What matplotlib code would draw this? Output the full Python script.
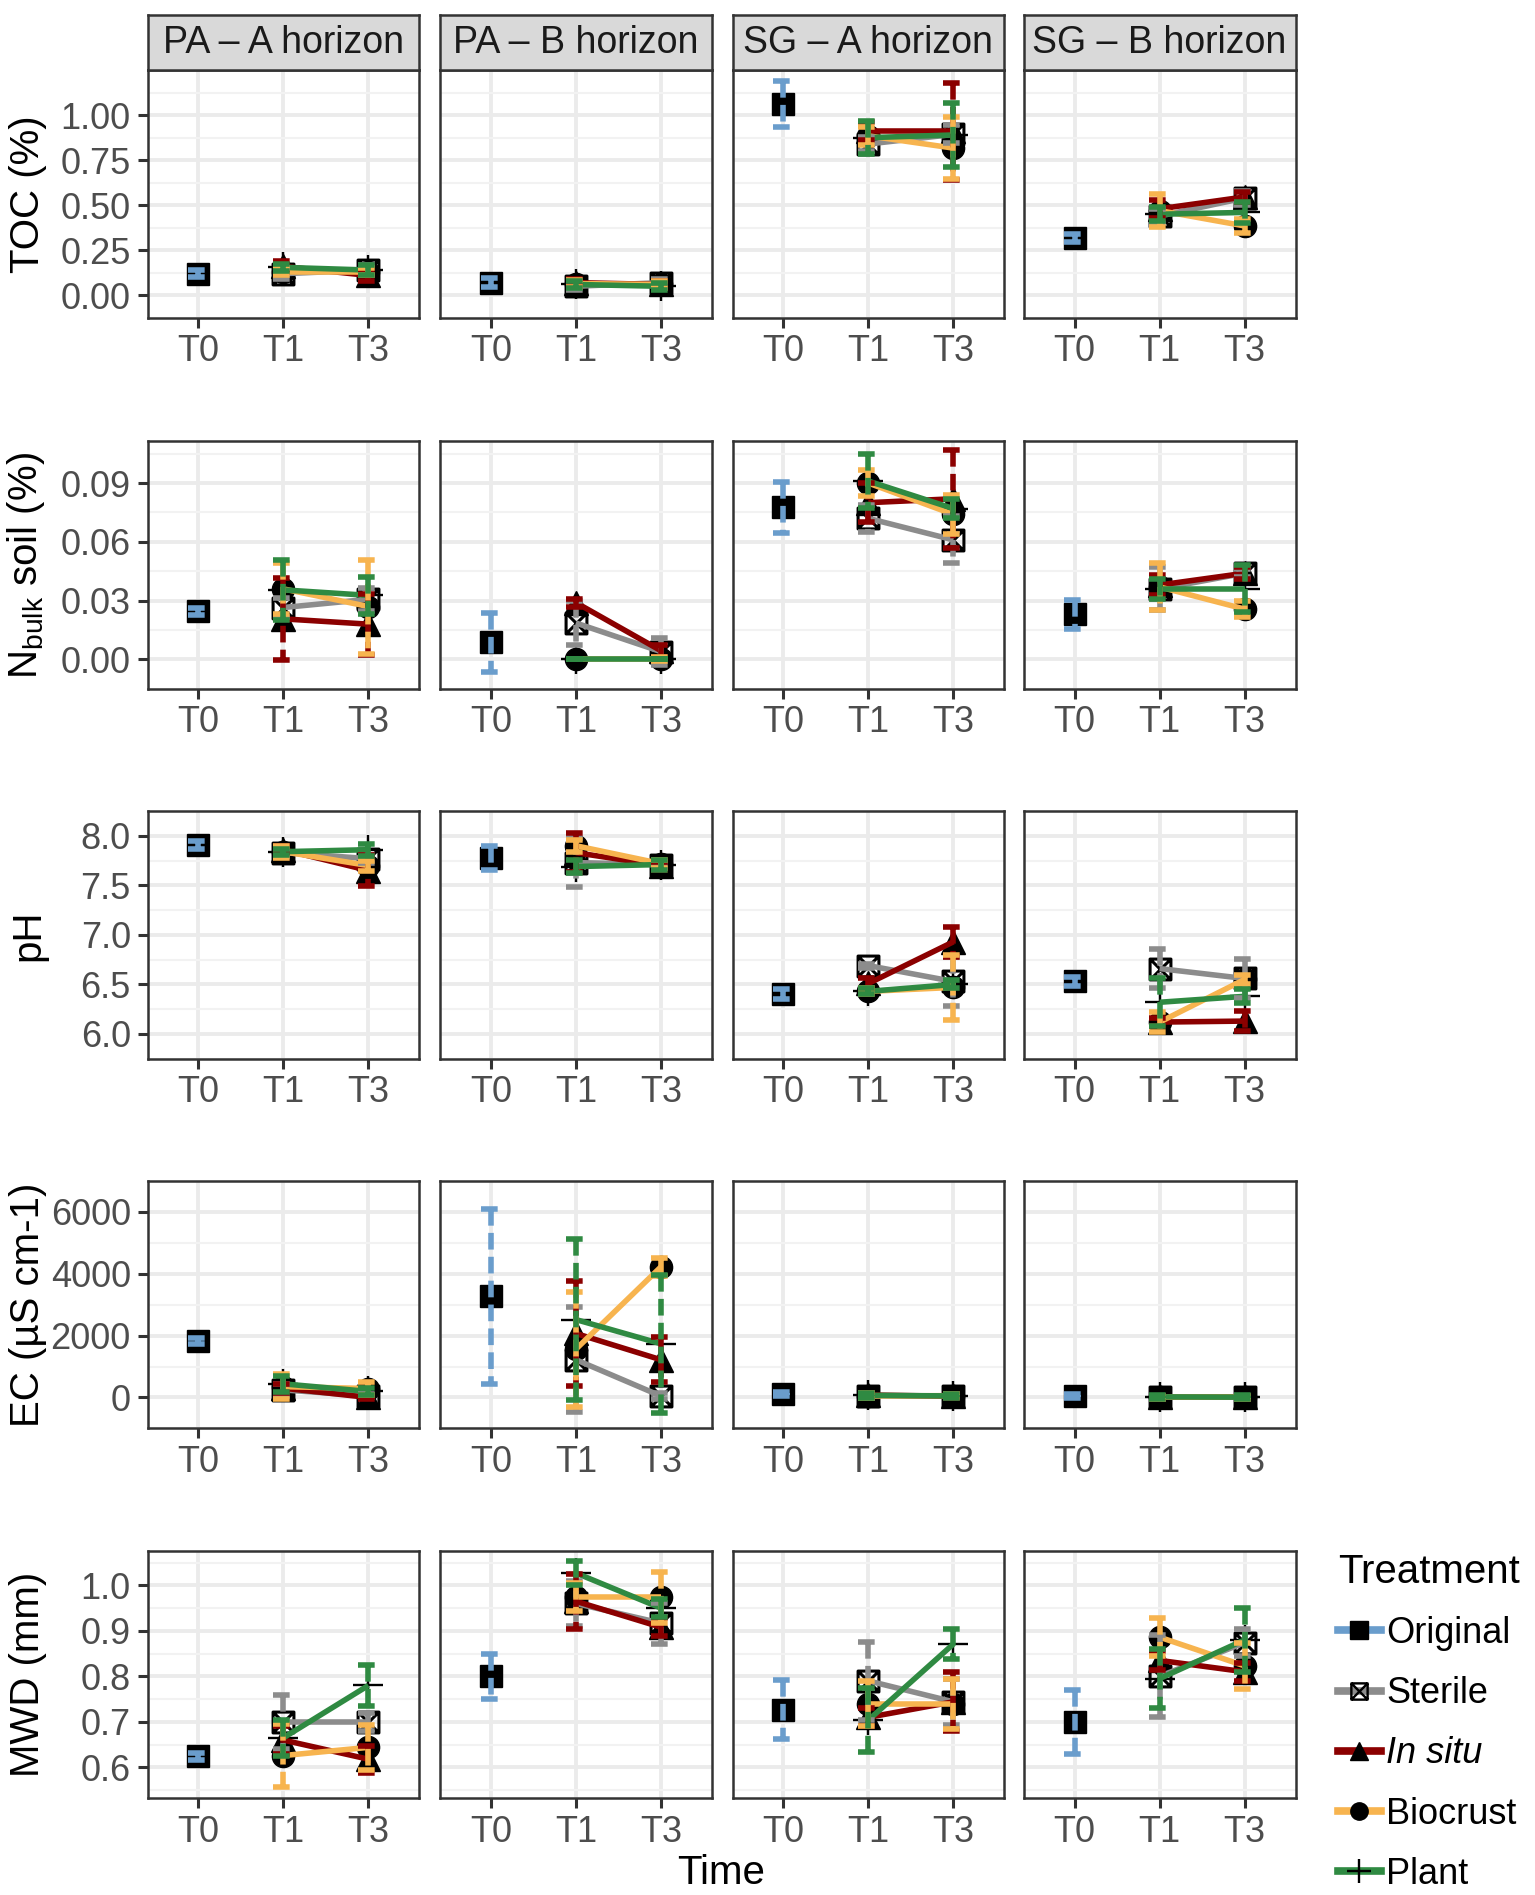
import numpy as np
import matplotlib.pyplot as plt
from matplotlib.lines import Line2D
from matplotlib.path import Path
from matplotlib.legend_handler import HandlerTuple

plt.rcParams['font.family'] = ['Liberation Sans', 'DejaVu Sans']
plt.rcParams['mathtext.fontset'] = 'custom'
plt.rcParams['mathtext.rm'] = 'Liberation Sans'

# ---- categories ----
horizons = ['PA – A horizon', 'PA – B horizon', 'SG – A horizon', 'SG – B horizon']
times = ['T0', 'T1', 'T3']
treatments = ['Original', 'Sterile', 'In situ', 'Biocrust', 'Plant']

# ---- data (Original is only at T0; others at T1/T3) ----
# treatment rows: Sterile, In situ, Biocrust, Plant
# columns: PA-A T1, PA-A T3, PA-B T1, PA-B T3, SG-A T1, SG-A T3, SG-B T1, SG-B T3

toc_orig = [0.12, 0.07, 1.063, 0.318]
toc_orig_se = [0.02, 0.025, 0.128, 0.02]
toc_mean = [[0.12, 0.14, 0.05, 0.07, 0.84, 0.893, 0.44, 0.54],
            [0.16, 0.11, 0.07, 0.06, 0.91, 0.91, 0.48, 0.546],
            [0.13, 0.13, 0.065, 0.06, 0.885, 0.817, 0.47, 0.385],
            [0.155, 0.14, 0.06, 0.05, 0.875, 0.89, 0.45, 0.46]]
toc_se = [[0.03, 0.03, 0.02, 0.02, 0.04, 0.05, 0.04, 0.04],
          [0.03, 0.03, 0.02, 0.02, 0.05, 0.27, 0.05, 0.03],
          [0.02, 0.02, 0.02, 0.02, 0.05, 0.17, 0.09, 0.04],
          [0.02, 0.03, 0.02, 0.02, 0.09, 0.18, 0.04, 0.06]]

n_orig = [0.0245, 0.0088, 0.0776, 0.023]
n_orig_se = [0.002, 0.015, 0.013, 0.0073]
n_mean = [[0.0265, 0.0307, 0.0186, 0.004, 0.072, 0.061, 0.036, 0.044],
          [0.0207, 0.018, 0.029, 0.0045, 0.080, 0.082, 0.038, 0.044],
          [0.036, 0.027, 0.0, 0.0, 0.090, 0.074, 0.037, 0.0257],
          [0.0355, 0.0327, 0.0, 0.0, 0.091, 0.077, 0.036, 0.036]]
n_se = [[0.005, 0.006, 0.011, 0.007, 0.007, 0.012, 0.011, 0.002],
        [0.021, 0.0155, 0.002, 0.003, 0.01, 0.025, 0.005, 0.003],
        [0.013, 0.024, 0.0, 0.001, 0.0066, 0.01, 0.012, 0.004],
        [0.0155, 0.0095, 0.0, 0.0, 0.0137, 0.005, 0.005, 0.012]]

ph_orig = [7.91, 7.78, 6.405, 6.53]
ph_orig_se = [0.04, 0.12, 0.05, 0.05]
ph_mean = [[7.83, 7.77, 7.73, 7.71, 6.69, 6.53, 6.66, 6.56],
           [7.86, 7.65, 7.83, 7.70, 6.51, 6.93, 6.12, 6.13],
           [7.84, 7.70, 7.90, 7.72, 6.43, 6.47, 6.12, 6.55],
           [7.84, 7.86, 7.69, 7.71, 6.43, 6.50, 6.32, 6.38]]
ph_se = [[0.03, 0.04, 0.25, 0.03, 0.02, 0.25, 0.2, 0.2],
         [0.04, 0.16, 0.2, 0.04, 0.05, 0.15, 0.04, 0.1],
         [0.06, 0.05, 0.06, 0.04, 0.03, 0.33, 0.1, 0.05],
         [0.03, 0.06, 0.07, 0.05, 0.03, 0.04, 0.24, 0.07]]

ec_orig = [1824, 3268, 117, 50]
ec_orig_se = [100, 2830, 60, 60]
ec_mean = [[244, 50, 1220, 49, 60, 50, 0, 0],
           [300, 0, 2068, 1220, 80, 40, 0, 0],
           [350, 290, 1560, 4215, 50, 60, 0, 0],
           [440, 195, 2517, 1737, 70, 50, 20, 10]]
ec_se = [[200, 50, 1700, 100, 80, 60, 60, 60],
         [150, 50, 1690, 730, 80, 60, 60, 60],
         [400, 200, 1860, 300, 80, 60, 60, 60],
         [250, 100, 2600, 2230, 80, 60, 60, 60]]

mwd_orig = [0.624, 0.80, 0.727, 0.70]
mwd_orig_se = [0.008, 0.05, 0.064, 0.07]
mwd_mean = [[0.70, 0.70, 0.96, 0.917, 0.79, 0.744, 0.80, 0.874],
            [0.66, 0.618, 0.965, 0.908, 0.71, 0.744, 0.835, 0.81],
            [0.626, 0.644, 0.974, 0.974, 0.74, 0.74, 0.886, 0.823],
            [0.665, 0.78, 1.027, 0.95, 0.704, 0.871, 0.795, 0.88]]
mwd_se = [[0.06, 0.02, 0.05, 0.045, 0.085, 0.05, 0.09, 0.03],
          [0.03, 0.03, 0.06, 0.02, 0.02, 0.065, 0.02, 0.02],
          [0.07, 0.05, 0.03, 0.056, 0.05, 0.055, 0.042, 0.05],
          [0.04, 0.046, 0.026, 0.02, 0.07, 0.034, 0.065, 0.07]]

ylabels = ['TOC (%)', r'N$_\mathregular{bulk}$ soil (%)', 'pH', 'EC (µS cm-1)', 'MWD (mm)']
yticks = [[0, 0.25, 0.5, 0.75, 1.0], [0, 0.03, 0.06, 0.09],
          [6.0, 6.5, 7.0, 7.5, 8.0], [0, 2000, 4000, 6000], [0.6, 0.7, 0.8, 0.9, 1.0]]
yticklabels = [['0.00', '0.25', '0.50', '0.75', '1.00'], ['0.00', '0.03', '0.06', '0.09'],
               ['6.0', '6.5', '7.0', '7.5', '8.0'], ['0', '2000', '4000', '6000'],
               ['0.6', '0.7', '0.8', '0.9', '1.0']]
ylims = [(-0.013, 1.25), (-0.0113, 0.1114), (5.926, 8.118), (-810, 6410), (0.532, 1.076)]

rows = [(toc_orig, toc_orig_se, toc_mean, toc_se),
        (n_orig, n_orig_se, n_mean, n_se),
        (ph_orig, ph_orig_se, ph_mean, ph_se),
        (ec_orig, ec_orig_se, ec_mean, ec_se),
        (mwd_orig, mwd_orig_se, mwd_mean, mwd_se)]

# ---- styles ----
colors = ['#6A9DCC', '#8C8C8C', '#8B0000', '#F7B44F', '#2F8A42']
box = Path([(-1, -1), (1, -1), (1, 1), (-1, 1), (-1, -1), (-1, -1), (1, 1), (-1, 1), (1, -1)],
           [Path.MOVETO, Path.LINETO, Path.LINETO, Path.LINETO, Path.CLOSEPOLY,
            Path.MOVETO, Path.LINETO, Path.MOVETO, Path.LINETO])
LW = 4.0
DASH = (0, (3, 1.3))
CAP = 0.12


def marker_kw(k, scale=1.0):
    if k == 1:
        return dict(marker=box, ms=15 * scale, mfc='none', mec='black', mew=2.2 * scale)
    if k == 4:
        return dict(marker='+', ms=22 * scale, mec='black', mew=1.7)
    return dict(marker=['s', None, '^', 'o'][k], ms=[16, 0, 17, 16][k] * scale, color='black')


def draw_err(ax, x, m, s, color):
    for xi, mi, si in zip(x, m, s):
        lo, hi = mi - si, mi + si
        xs = [xi - CAP, xi + CAP, np.nan, xi, xi, np.nan, xi - CAP, xi + CAP]
        ys = [hi, hi, np.nan, hi, lo, np.nan, lo, lo]
        ax.plot(xs, ys, color=color, lw=LW, ls=DASH, dash_capstyle='butt', zorder=5)


fig = plt.figure(figsize=(15.35, 18.95), dpi=100)

lefts = [0.0961, 0.2866, 0.4772, 0.6669]
bottoms = [0.8323, 0.6365, 0.4413, 0.2462, 0.0510]
W, H = 0.1771, 0.1307
xpos = np.arange(1, len(times) + 1)

for r, (orig, orig_se, mean, se) in enumerate(rows):
    for c in range(4):
        ax = fig.add_axes([lefts[c], bottoms[r], W, H])
        ax.set_xlim(0.4, 3.6)
        ax.set_ylim(*ylims[r])
        ax.set_xticks(xpos)
        ax.set_xticklabels(times)
        ax.set_yticks(yticks[r])
        step = yticks[r][1] - yticks[r][0]
        mids = [t + step / 2 for t in [yticks[r][0] - step] + yticks[r]]
        ax.set_yticks(mids, minor=True)
        ax.grid(True, which='major', color='#EBEBEB', lw=2.8, zorder=0)
        ax.grid(True, which='minor', axis='y', color='#F2F2F2', lw=1.5, zorder=0)
        ax.set_axisbelow(True)
        ax.tick_params(which='minor', length=0)
        ax.tick_params(which='major', direction='out', length=7, width=2.2,
                       color='#333333', labelsize=26, labelcolor='#4D4D4D', pad=5)
        if c == 0:
            ax.set_yticklabels(yticklabels[r])
            ax.set_ylabel(ylabels[r], fontsize=29, color='black')
            ax.yaxis.set_label_coords(-0.37, 0.5)
        else:
            ax.tick_params(axis='y', which='major', length=0, labelleft=False)
        for sp in ax.spines.values():
            sp.set_color('#333333')
            sp.set_linewidth(1.8)
            sp.set_zorder(10)

        # points first, then lines, then error bars (ggplot layer order)
        ax.plot([xpos[0]], [orig[c]], ls='none', zorder=3, **marker_kw(0))
        for k in range(4):
            ax.plot(xpos[1:], mean[k][2 * c:2 * c + 2], ls='none', zorder=3, **marker_kw(k + 1))
        for k in range(4):
            ax.plot(xpos[1:], mean[k][2 * c:2 * c + 2], color=colors[k + 1], lw=LW,
                    solid_capstyle='butt', zorder=4)
        draw_err(ax, [xpos[0]], [orig[c]], [orig_se[c]], colors[0])
        for k in range(4):
            draw_err(ax, xpos[1:], mean[k][2 * c:2 * c + 2], se[k][2 * c:2 * c + 2],
                     colors[k + 1])

        if r == 0:
            sax = fig.add_axes([lefts[c], bottoms[0] + H, W, 0.0293])
            sax.set_facecolor('#D9D9D9')
            sax.set_xticks([])
            sax.set_yticks([])
            for sp in sax.spines.values():
                sp.set_color('#333333')
                sp.set_linewidth(1.8)
            sax.text(0.5, 0.48, horizons[c], ha='center', va='center', fontsize=27,
                     color='#1A1A1A', transform=sax.transAxes)

fig.text(0.470, 0.0115, 'Time', ha='center', va='center', fontsize=29)

# legend
handles = []
for k, t in enumerate(treatments):
    ln = Line2D([], [], color=colors[k], lw=5.5)
    mk = Line2D([], [], ls='none', **marker_kw(k, 0.78))
    handles.append((ln, mk))
leg = fig.legend(handles, treatments, handler_map={tuple: HandlerTuple(ndivide=1)},
                 loc='upper left', bbox_to_anchor=(0.855, 0.194), frameon=False,
                 title='Treatment', fontsize=26, title_fontsize=29, labelspacing=0.70,
                 handlelength=1.2, handletextpad=0.15, alignment='left', borderpad=0.2)
leg.get_texts()[2].set_fontstyle('italic')

fig.savefig('out.png', dpi=100)
